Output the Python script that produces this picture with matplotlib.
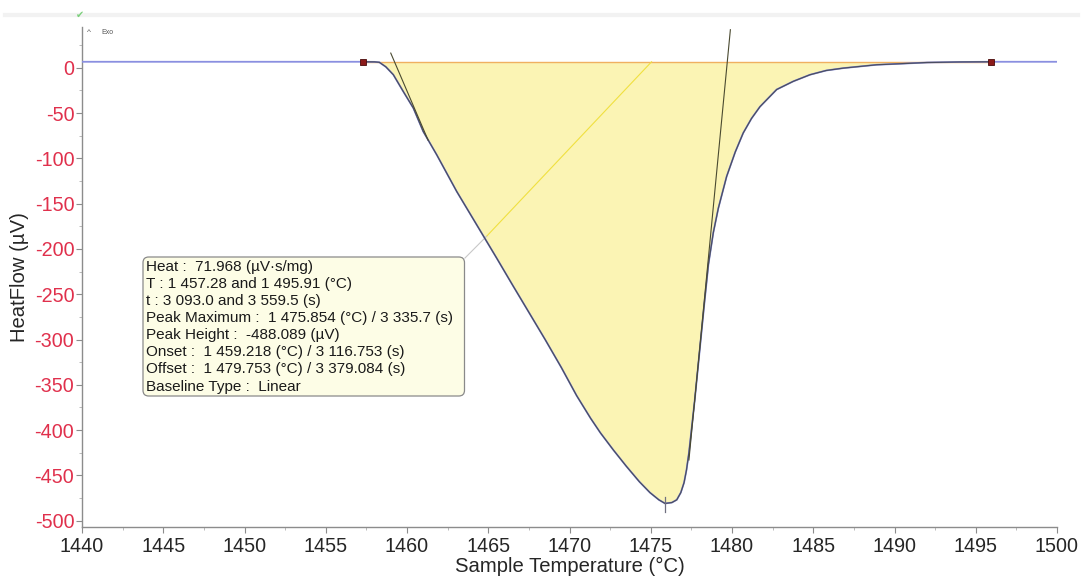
import numpy as np
import matplotlib
matplotlib.use("Agg")
import matplotlib.pyplot as plt
from matplotlib.patches import FancyBboxPatch

plt.rcParams['font.family'] = ['Liberation Sans', 'DejaVu Sans']
plt.rcParams['axes.unicode_minus'] = False

# ---------------- data ----------------
temp = [1440.0, 1450.0, 1457.3, 1458.0, 1458.3, 1458.7, 1459.16, 1459.77,
        1460.39, 1461.0, 1461.83, 1463.06, 1464.29, 1465.52, 1466.5, 1467.5,
        1468.5, 1469.5, 1470.44, 1471.3, 1471.9, 1472.7, 1473.5, 1474.3,
        1474.95, 1475.5, 1475.88, 1476.3, 1476.6, 1476.85, 1477.05, 1477.2,
        1477.35, 1477.7, 1478.0, 1478.3, 1478.55, 1478.85, 1479.16, 1479.67,
        1480.2, 1480.69, 1481.2, 1481.72, 1482.75, 1483.77, 1484.8, 1485.8,
        1486.85, 1488.9, 1490.3, 1492.0, 1494.0, 1495.91, 1500.0]
heatflow = [6.6, 6.6, 6.6, 6.5, 6.0, 1.0, -7.7, -26.2,
            -44.5, -70.4, -96.1, -136.6, -173.4, -210.2, -240.0, -270.0,
            -300.0, -331.0, -362.0, -387.0, -403.0, -422.0, -440.0, -457.0,
            -469.0, -477.0, -481.0, -480.0, -477.0, -469.0, -458.0, -444.0,
            -425.0, -368.0, -314.0, -260.0, -217.0, -182.0, -155.0, -120.0,
            -93.0, -72.0, -56.0, -43.0, -24.0, -15.0, -7.7, -3.0,
            -0.4, 3.3, 4.4, 5.8, 6.4, 6.6, 6.6]

baseline_level = 6.6
limits_T = [1457.28, 1495.91]
peak_T = 1475.854
onset_tangent_T = [1459.0, 1461.3]
onset_tangent_v = [16.2, -80.0]
offset_tangent_T = [1479.9, 1477.35]
offset_tangent_v = [42.0, -433.0]
half_line_T = [1464.9, 1475.05]
half_line_v = [-186.0, 6.6]

xticks = [1440, 1445, 1450, 1455, 1460, 1465, 1470, 1475, 1480, 1485, 1490, 1495, 1500]
yticks = [0, -50, -100, -150, -200, -250, -300, -350, -400, -450, -500]

info_lines = [
    "Heat :  71.968 (\u00b5V\u00b7s/mg)",
    "T : 1 457.28 and 1 495.91 (\u00b0C)",
    "t : 3 093.0 and 3 559.5 (s)",
    "Peak Maximum :  1 475.854 (\u00b0C) / 3 335.7 (s)",
    "Peak Height :  -488.089 (\u00b5V)",
    "Onset :  1 459.218 (\u00b0C) / 3 116.753 (s)",
    "Offset :  1 479.753 (\u00b0C) / 3 379.084 (s)",
    "Baseline Type :  Linear",
]

# ---------------- figure ----------------
W, H, DPI = 1083, 577, 100
fig = plt.figure(figsize=(W / DPI, H / DPI), dpi=DPI)
ax_l, ax_r, ax_t, ax_b = 82, 1057, 27, 527
ax = fig.add_axes([ax_l / W, 1 - ax_b / H, (ax_r - ax_l) / W, (ax_b - ax_t) / H])

xlim = (1440, 1500)
ylim = (-507, 45)
ax.set_xlim(*xlim)
ax.set_ylim(*ylim)

T = np.array(temp)
V = np.array(heatflow)

# integrated area
mask = (T >= limits_T[0]) & (T <= limits_T[1])
ax.fill_between(T[mask], V[mask], baseline_level, color='#fbf4b4', lw=0, zorder=1)
# integration baseline
ax.plot(limits_T, [baseline_level, baseline_level], color='#f0b060', lw=1.0, zorder=2)

# measured curve
ax.plot(T, V, color='#8a8fe0', lw=1.3, zorder=3)
ax.plot(T[mask], V[mask], color='#4a4e60', lw=0.9, zorder=4)

# tangents and helper lines
ax.plot(onset_tangent_T, onset_tangent_v, color='#4a4a30', lw=0.8, zorder=5)
ax.plot(offset_tangent_T, offset_tangent_v, color='#4a4a30', lw=0.8, zorder=5)
ax.plot(half_line_T, half_line_v, color='#f0e040', lw=0.8, zorder=2)

# peak marker
ax.plot([peak_T, peak_T], [-474, -490], color='#707080', lw=0.9, zorder=6)

# limit markers
ax.plot(limits_T, [baseline_level, baseline_level], ls='none', marker='s', ms=4.5,
        mfc='#8b1a1a', mec='#4a0a0a', mew=0.6, zorder=7)

# helpers to convert pixel positions of layout elements to data coords
def px2x(px):
    return xlim[0] + (px - ax_l) / (ax_r - ax_l) * (xlim[1] - xlim[0])

def px2y(py):
    return ylim[1] - (py - ax_t) / (ax_b - ax_t) * (ylim[1] - ylim[0])

# connector from box to half line
ax.plot([px2x(465), half_line_T[0]], [px2y(258), half_line_v[0]], color='#c8c8c8', lw=0.8, zorder=2)

# annotation box
bx0, by0, bx1, by1 = 143, 257, 464.5, 396
box = FancyBboxPatch((px2x(bx0), px2y(by1)), px2x(bx1) - px2x(bx0), px2y(by0) - px2y(by1),
                     boxstyle="round,pad=0,rounding_size=0.35", transform=ax.transData,
                     fc='#fdfde6', ec='#8a8a8a', lw=0.9, zorder=8,
                     mutation_aspect=(ylim[1] - ylim[0]) / (xlim[1] - xlim[0]) * (ax_r - ax_l) / (ax_b - ax_t))
ax.add_patch(box)
for i, line in enumerate(info_lines):
    ax.text(px2x(146), px2y(266.5 + i * 17.15), line, fontsize=11, color='#1a1a1a',
            va='center', ha='left', zorder=9)

# axes styling
for s in ['top', 'right']:
    ax.spines[s].set_visible(False)
for s in ['left', 'bottom']:
    ax.spines[s].set_color('#8c8c8c')
    ax.spines[s].set_linewidth(1.0)

ax.set_xticks(xticks)
ax.set_yticks(yticks)
ax.set_xticks(np.arange(1442.5, 1500, 5), minor=True)
ax.set_yticks(np.arange(-475, 45, 50), minor=True)
ax.tick_params(axis='both', which='major', length=4, width=0.8, color='#8c8c8c', labelsize=14.2)
ax.tick_params(axis='both', which='minor', length=2.5, width=0.6, color='#b0b0b0')
ax.tick_params(axis='x', labelcolor='#262626', pad=3)
ax.tick_params(axis='y', labelcolor='#e0304c', pad=1.5)

ax.set_xlabel("Sample Temperature (\u00b0C)", fontsize=14.6, color='#262626', labelpad=1)
ax.set_ylabel("HeatFlow (\u00b5V)", fontsize=14.6, color='#262626', labelpad=4)

# small chart decorations
fig.text(87 / W, 1 - 33 / H, "^", fontsize=6, color='#555555', ha='left', va='center')
fig.text(101 / W, 1 - 33 / H, "Exo", fontsize=5, color='#555555', ha='left', va='center')
fig.text(80 / W, 1 - 15 / H, "\u2714", fontsize=7, color='#7ccf7c', ha='center', va='center',
         family='DejaVu Sans')
fig.add_artist(plt.Line2D([5 / W, 1078 / W], [1 - 15 / H, 1 - 15 / H], color='#f2f2f2', lw=3,
                          transform=fig.transFigure, zorder=0))

fig.savefig("out.png", dpi=DPI)
